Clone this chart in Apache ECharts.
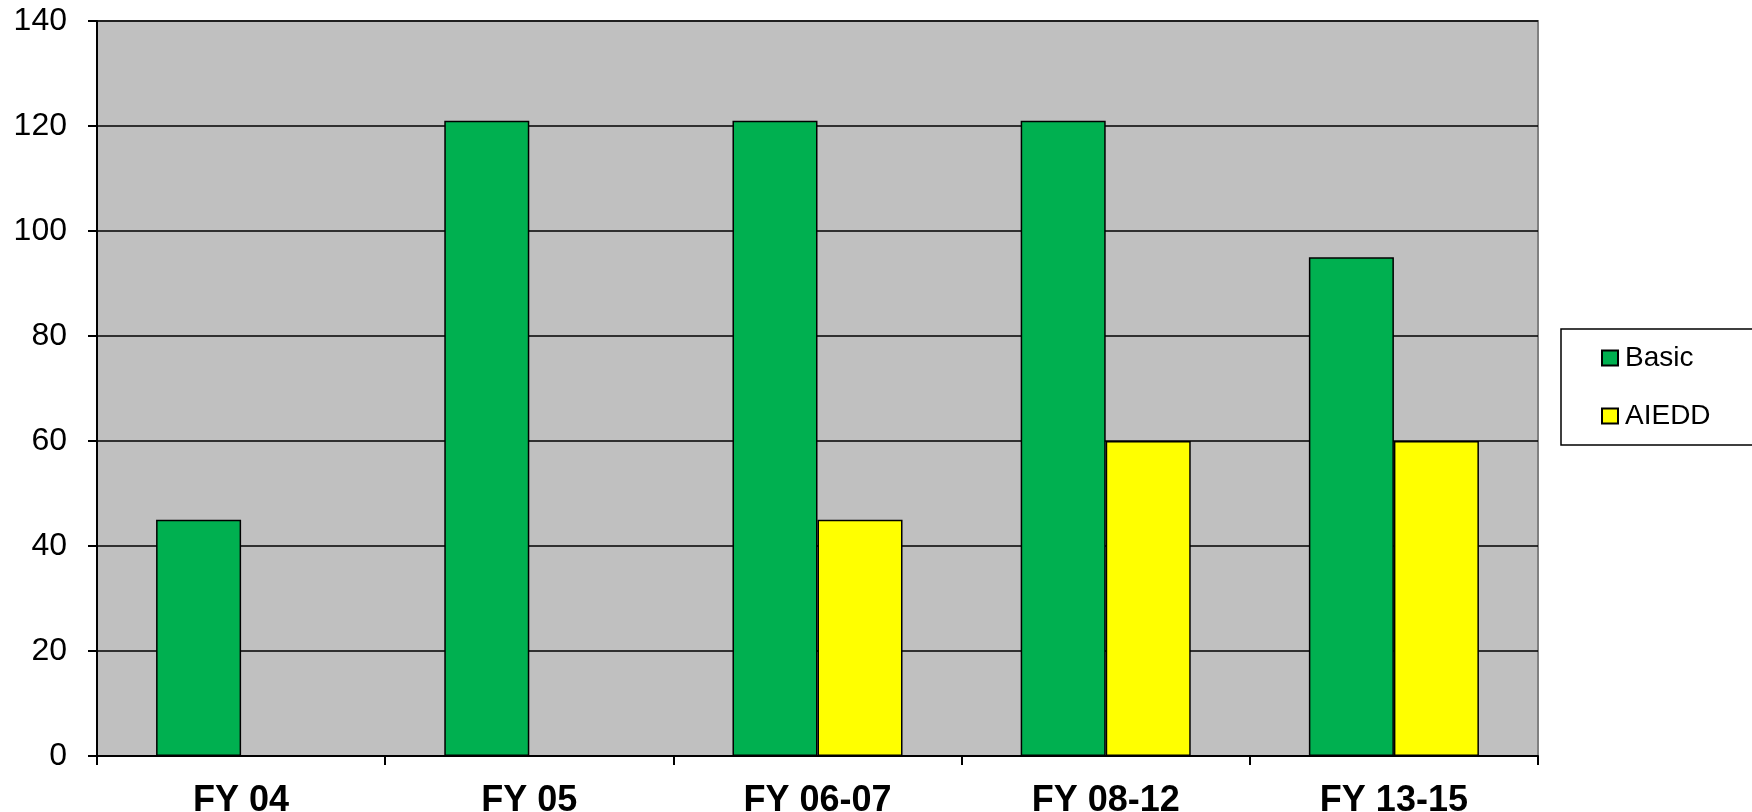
<!DOCTYPE html>
<html>
<head>
<meta charset="utf-8">
<script src="https://cdn.jsdelivr.net/npm/echarts@6/dist/echarts.min.js"></script>
<style>
  html, body { margin: 0; padding: 0; background: #fff; }
  #chart { width: 1752px; height: 812px; }
</style>
</head>
<body>
<div id="chart"></div>
<script>
const categories = ['FY 04', 'FY 05', 'FY 06-07', 'FY 08-12', 'FY 13-15']
const basicValues = [45, 121, 121, 121, 95]
const aieddValues = [null, null, 45, 60, 60]
const yTicks = { min: 0, max: 140, interval: 20 }

const chart = echarts.init(document.getElementById('chart'))

const option = {
  animation: false,
  textStyle: { fontFamily: 'Liberation Sans, Arial, sans-serif' },
  grid: {
    left: 97,
    right: 214,
    top: 21,
    bottom: 56,
    outerBoundsMode: 'none',
    containLabel: false,
    show: true,
    backgroundColor: '#C0C0C0',
    borderColor: '#808080',
    borderWidth: 2
  },
  legend: {
    orient: 'vertical',
    left: 1561,
    top: 329,
    padding: [15, 50, 15, 40],
    itemGap: 30,
    itemWidth: 16,
    itemHeight: 15,
    icon: 'rect',
    borderColor: '#000',
    borderWidth: 1.5,
    backgroundColor: '#fff',
    textStyle: { fontSize: 28, color: '#000', padding: [0, 0, 0, 2] },
    data: ['Basic', 'AIEDD']
  },
  xAxis: {
    type: 'category',
    data: categories,
    axisLine: { lineStyle: { color: '#000', width: 2 } },
    axisTick: { show: true, length: 9, lineStyle: { color: '#000', width: 2 } },
    axisLabel: { color: '#000', fontSize: 36, fontWeight: 'bold', margin: 27 }
  },
  yAxis: {
    type: 'value',
    min: yTicks.min,
    max: yTicks.max,
    interval: yTicks.interval,
    axisLine: { show: true, lineStyle: { color: '#000', width: 2 } },
    axisTick: { show: true, length: 9, lineStyle: { color: '#000', width: 2 } },
    axisLabel: { color: '#000', fontSize: 32, margin: 30 },
    splitLine: { lineStyle: { color: '#000', width: 1.5 } }
  },
  series: [
    {
      name: 'Basic',
      type: 'bar',
      data: basicValues,
      barGap: '0%',
      barCategoryGap: '41%',
      itemStyle: { color: '#00B050', borderColor: '#000', borderWidth: 1.5 }
    },
    {
      name: 'AIEDD',
      type: 'bar',
      data: aieddValues,
      itemStyle: { color: '#FFFF00', borderColor: '#000', borderWidth: 1.5 }
    }
  ]
}

chart.setOption(option)
</script>
</body>
</html>
